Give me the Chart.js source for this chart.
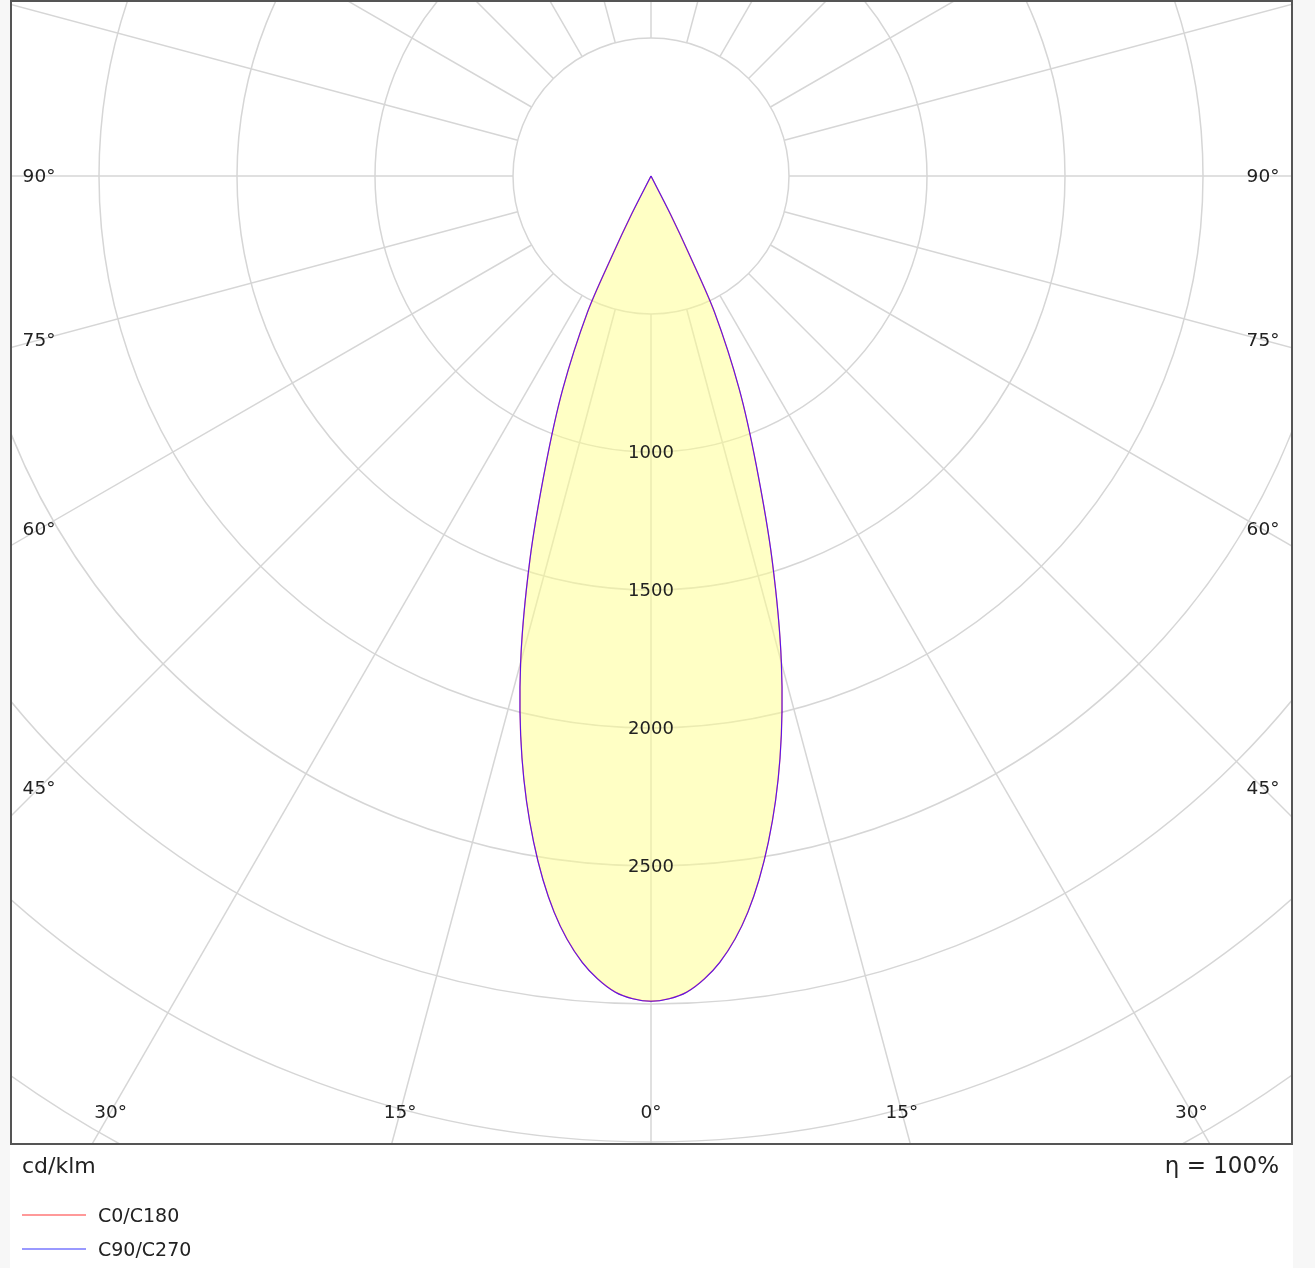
<!DOCTYPE html>
<html>
<head>
<meta charset="utf-8">
<script src="https://cdn.jsdelivr.net/npm/chart.js@4.4.1/dist/chart.umd.min.js"></script>
<style>
  html, body { margin: 0; padding: 0; background: #f7f7f7; }
  body { width: 1315px; height: 1268px; position: relative; overflow: hidden; font-family: "DejaVu Sans", Verdana, sans-serif; color: #222; }
  #panel { position: absolute; left: 10px; top: 0; width: 1283px; height: 1268px; background: #ffffff; }
  #c { position: absolute; left: 10px; top: 0; }
  .txt { position: absolute; white-space: nowrap; line-height: 1; }
  #unit { left: 22px; top: 1155px; font-size: 22px; }
  #eta { right: 36px; top: 1154px; font-size: 23px; }
  #legend { position: absolute; left: 22px; top: 1203px; }
  .lg-row { position: relative; height: 34px; }
  .lg-line { position: absolute; left: 0; top: 11px; width: 64px; height: 2px; opacity: 0.4; }
  .lg-text { position: absolute; left: 76px; top: 3px; font-size: 19px; line-height: 1; white-space: nowrap; }
</style>
</head>
<body>
<div id="panel"></div>
<canvas id="c" width="1283" height="1268"></canvas>
<div class="txt" id="unit"></div>
<div class="txt" id="eta"></div>
<div id="legend"></div>
<script>
// ---- data (cd/klm), gamma angles in degrees ----
const gammaDeg = [0, 2.5, 5, 7.5, 10, 12.5, 15, 17.5, 20, 22.5, 25, 26, 27, 28];
const c0   = [2990, 2960, 2860, 2690, 2450, 2160, 1825, 1460, 1115, 835, 545, 320, 155, 0];
const c180 = [2990, 2960, 2860, 2690, 2450, 2160, 1825, 1460, 1115, 835, 545, 320, 155, 0];
const c90  = [2990, 2960, 2860, 2690, 2450, 2160, 1825, 1460, 1115, 835, 545, 320, 155, 0];
const c270 = [2990, 2960, 2860, 2690, 2450, 2160, 1825, 1460, 1115, 835, 545, 320, 155, 0];
const seriesNames = ['C0/C180', 'C90/C270'];
const ringValues = [500, 1000, 1500, 2000, 2500, 3000, 3500, 4000, 4500];
const ringLabels = [1000, 1500, 2000, 2500];
const angleLabels = [0, 15, 30, 45, 60, 75, 90];
const spokeAngles = [0, 15, 30, 45, 60, 75, 90, 105, 120, 135, 150, 165, 180, 195, 210, 225, 240, 255, 270, 285, 300, 315, 330, 345];
const unitText = 'cd/klm';
const etaText = 'η = 100%';

// ---- layout ----
const PX_PER_UNIT = 0.276;
const CENTER = { x: 641, y: 176 };
const PAD = { left: 1, right: 1, top: 1, bottom: 124 };
const CW = 1283, CH = 1268;
const area = { left: PAD.left, right: CW - PAD.right, top: PAD.top, bottom: CH - PAD.bottom };

const rad = d => d * Math.PI / 180;
function planePoints(leftVals, rightVals) {
  const pts = [];
  for (let i = gammaDeg.length - 1; i >= 0; i--) {
    const g = rad(gammaDeg[i]);
    pts.push({ x: -leftVals[i] * Math.sin(g), y: leftVals[i] * Math.cos(g) });
  }
  for (let i = 1; i < gammaDeg.length; i++) {
    const g = rad(gammaDeg[i]);
    pts.push({ x: rightVals[i] * Math.sin(g), y: rightVals[i] * Math.cos(g) });
  }
  return pts;
}

const polarGrid = {
  id: 'polarGrid',
  beforeDatasetsDraw(chart) {
    const { ctx, chartArea: a, scales: { x, y } } = chart;
    const cx = x.getPixelForValue(0), cy = y.getPixelForValue(0);
    const pr = v => x.getPixelForValue(v) - cx;
    ctx.save();
    ctx.beginPath(); ctx.rect(a.left, a.top, a.right - a.left, a.bottom - a.top); ctx.clip();
    ctx.strokeStyle = '#d6d6d6';
    ctx.lineWidth = 1.5;
    ringValues.forEach(v => { ctx.beginPath(); ctx.arc(cx, cy, pr(v), 0, Math.PI * 2); ctx.stroke(); });
    const r0 = pr(ringValues[0]), r1 = pr(8000);
    spokeAngles.forEach(d => {
      const s = Math.sin(rad(d)), c = Math.cos(rad(d));
      ctx.beginPath(); ctx.moveTo(cx + r0 * s, cy + r0 * c); ctx.lineTo(cx + r1 * s, cy + r1 * c); ctx.stroke();
    });
    ctx.restore();
  },
  afterDatasetsDraw(chart) {
    const { ctx, chartArea: a, scales: { x, y } } = chart;
    const cx = x.getPixelForValue(0), cy = y.getPixelForValue(0);
    ctx.save();
    ctx.fillStyle = '#222';
    ctx.textAlign = 'center'; ctx.textBaseline = 'middle';
    ctx.font = '18px "DejaVu Sans", Verdana, sans-serif';
    ringLabels.forEach(v => ctx.fillText(String(v), cx, y.getPixelForValue(v) + 1));
    ctx.font = '18.5px "DejaVu Sans", Verdana, sans-serif';
    const sideX = (cx - a.left) - 28, botY = (a.bottom - cy) - 32;
    angleLabels.forEach(d => {
      const t = Math.tan(rad(d));
      let dx, dy;
      if (d < 90 && botY * t <= sideX) { dx = botY * t; dy = botY; }
      else { dx = sideX; dy = d >= 90 ? 0 : sideX / t; }
      const label = d + '°';
      ctx.fillText(label, cx - dx, cy + dy + 1);
      if (d !== 0) ctx.fillText(label, cx + dx, cy + dy + 1);
    });
    ctx.strokeStyle = '#555';
    ctx.lineWidth = 2;
    ctx.strokeRect(a.left, a.top, a.right - a.left, a.bottom - a.top);
    ctx.restore();
  }
};

const chart = new Chart(document.getElementById('c'), {
  type: 'scatter',
  data: {
    datasets: [
      { label: seriesNames[0], data: planePoints(c180, c0), showLine: true, borderColor: 'rgba(255,0,0,0.5)', borderWidth: 1.3,
        backgroundColor: 'rgba(255,255,140,0.5)', fill: 'shape', pointRadius: 0, tension: 0.3, order: 2 },
      { label: seriesNames[1], data: planePoints(c270, c90), showLine: true, borderColor: 'rgba(60,0,255,0.85)', borderWidth: 1.1,
        fill: false, pointRadius: 0, tension: 0.3, order: 1 }
    ]
  },
  options: {
    responsive: false, animation: false, devicePixelRatio: 1,
    layout: { padding: PAD },
    plugins: { legend: { display: false }, tooltip: { enabled: false } },
    scales: {
      x: { type: 'linear', display: false, min: (area.left - CENTER.x) / PX_PER_UNIT, max: (area.right - CENTER.x) / PX_PER_UNIT },
      y: { type: 'linear', display: false, reverse: true, min: (area.top - CENTER.y) / PX_PER_UNIT, max: (area.bottom - CENTER.y) / PX_PER_UNIT }
    }
  },
  plugins: [polarGrid]
});

document.getElementById('unit').textContent = unitText;
document.getElementById('eta').textContent = etaText;
const lg = document.getElementById('legend');
const legendColors = ['rgb(255,0,0)', 'rgb(0,0,255)'];
chart.data.datasets.forEach((ds, i) => {
  const row = document.createElement('div'); row.className = 'lg-row';
  const ln = document.createElement('div'); ln.className = 'lg-line'; ln.style.background = legendColors[i];
  const tx = document.createElement('div'); tx.className = 'lg-text'; tx.textContent = ds.label;
  row.appendChild(ln); row.appendChild(tx); lg.appendChild(row);
});
</script>
</body>
</html>
